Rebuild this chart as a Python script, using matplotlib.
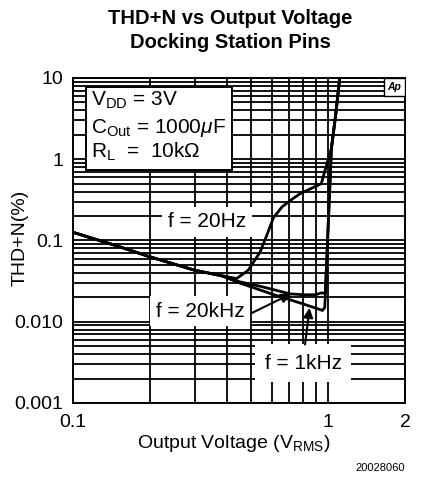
import matplotlib
matplotlib.use("Agg")
import matplotlib.pyplot as plt
from matplotlib.patches import Rectangle

plt.rcParams["font.family"] = ["Liberation Sans", "DejaVu Sans"]
plt.rcParams["mathtext.fontset"] = "custom"
plt.rcParams["mathtext.rm"] = "Liberation Sans"
plt.rcParams["mathtext.it"] = "Liberation Sans:italic"

# data (Output Voltage in Vrms, THD+N in %)
v_20hz = [0.1, 0.15, 0.2, 0.3, 0.38, 0.438, 0.486, 0.541, 0.575, 0.61,
          0.66, 0.73, 0.78, 0.94, 1.0, 1.03, 1.07, 1.11]
thd_20hz = [0.126, 0.085, 0.063, 0.043, 0.037, 0.034, 0.043, 0.072, 0.116,
            0.19, 0.26, 0.33, 0.38, 0.5, 1.0, 1.37, 3.5, 10.0]

v_20khz = [0.1, 0.15, 0.2, 0.3, 0.38, 0.45, 0.55, 0.71, 0.8, 0.89, 0.94,
           0.975, 1.03, 1.07, 1.11]
thd_20khz = [0.126, 0.085, 0.063, 0.043, 0.037, 0.031, 0.027, 0.022, 0.0215,
             0.0215, 0.0226, 0.0226, 1.37, 3.5, 10.0]

v_1khz = [0.1, 0.15, 0.2, 0.3, 0.38, 0.45, 0.6, 0.8, 0.95, 0.97, 1.03,
          1.07, 1.11]
thd_1khz = [0.126, 0.085, 0.063, 0.043, 0.037, 0.03, 0.022, 0.0165, 0.0138,
            0.015, 1.37, 3.5, 10.0]

x_ticks = [0.1, 1, 2]
x_labels = ["0.1", "1", "2"]
y_ticks = [0.001, 0.01, 0.1, 1, 10]
y_labels = ["0.001", "0.010", "0.1", "1", "10"]

fig = plt.figure(figsize=(4.41, 4.87), dpi=100)
ax = fig.add_axes([0.1655, 0.1725, 0.7528, 0.6674])

ax.set_xscale("log")
ax.set_yscale("log")
ax.set_xlim(0.1, 2)
ax.set_ylim(0.001, 10)

ax.set_xticks(x_ticks)
ax.set_xticklabels(x_labels)
ax.set_yticks(y_ticks)
ax.set_yticklabels(y_labels)
ax.xaxis.set_minor_locator(matplotlib.ticker.LogLocator(base=10, subs=range(2, 10)))
ax.yaxis.set_minor_locator(matplotlib.ticker.LogLocator(base=10, subs=range(2, 10)))
ax.xaxis.set_minor_formatter(matplotlib.ticker.NullFormatter())
ax.yaxis.set_minor_formatter(matplotlib.ticker.NullFormatter())
ax.tick_params(which="both", length=0, labelsize=14)
ax.tick_params(axis="x", pad=8)
ax.tick_params(axis="y", pad=7)
ax.grid(which="both", color="black", linewidth=1.3)
ax.set_axisbelow(True)
for s in ax.spines.values():
    s.set_linewidth(1.4)

for xs, ys in [(v_20hz, thd_20hz), (v_20khz, thd_20khz), (v_1khz, thd_1khz)]:
    ax.plot(xs, ys, color="black", linewidth=2.0, zorder=4,
            solid_joinstyle="miter")

# parameter box
ax.add_patch(Rectangle((0.039, 0.717), 0.44, 0.255, transform=ax.transAxes,
                       facecolor="white", edgecolor="black", linewidth=1.4,
                       zorder=5))
box_txt = [r"V$_{\mathrm{DD}}$ = 3V", r"C$_{\mathrm{Out}}$ = 1000$\mathit{\mu}$F",
           r"R$_{\mathrm{L}}$  =  10k$\Omega$"]
for t, y in zip(box_txt, [0.932, 0.846, 0.772]):
    ax.text(0.055, y, t, transform=ax.transAxes, fontsize=15, va="center",
            ha="left", zorder=6)

# Ap logo
ax.add_patch(Rectangle((0.937, 0.945), 0.063, 0.055, transform=ax.transAxes,
                       facecolor="white", edgecolor="black", linewidth=1.0,
                       zorder=5))
ax.text(0.968, 0.972, "Ap", transform=ax.transAxes, fontsize=7.5,
        fontweight="bold", fontstyle="italic", ha="center", va="center",
        zorder=6)

lbl_box = dict(facecolor="white", edgecolor="none", pad=4)
ax.text(0.404, 0.557, "f = 20Hz", transform=ax.transAxes, fontsize=15,
        ha="center", va="center", bbox=lbl_box, zorder=3)
ax.text(0.383, 0.283, "f = 20kHz", transform=ax.transAxes, fontsize=15,
        ha="center", va="center", bbox=lbl_box, zorder=3)
ax.text(0.693, 0.123, "f = 1kHz", transform=ax.transAxes, fontsize=15,
        ha="center", va="center",
        bbox=dict(facecolor="white", edgecolor="none", pad=7), zorder=3)

arw = dict(arrowstyle="-|>", color="black", lw=1.5, mutation_scale=14,
           shrinkA=0, shrinkB=0)
ax.annotate("", xy=(0.714, 0.022), xycoords="data", xytext=(0.539, 0.277),
            textcoords="axes fraction", arrowprops=arw, zorder=5)
ax.annotate("", xy=(0.845, 0.0148), xycoords="data", xytext=(0.699, 0.18),
            textcoords="axes fraction", arrowprops=arw, zorder=5)

fig.text(0.522, 0.962, "THD+N vs Output Voltage", fontsize=14.5,
         fontweight="bold", ha="center", va="center")
fig.text(0.522, 0.913, "Docking Station Pins", fontsize=14.5,
         fontweight="bold", ha="center", va="center")
fig.text(0.53, 0.09, r"Output Voltage (V$_{\mathrm{RMS}}$)", fontsize=14,
         ha="center", va="center")
fig.text(0.045, 0.511, "THD+N(%)", fontsize=14, rotation=90,
         ha="center", va="center")
fig.text(0.918, 0.04, "20028060", fontsize=8, ha="right", va="center")

fig.savefig("out.png", dpi=100)
